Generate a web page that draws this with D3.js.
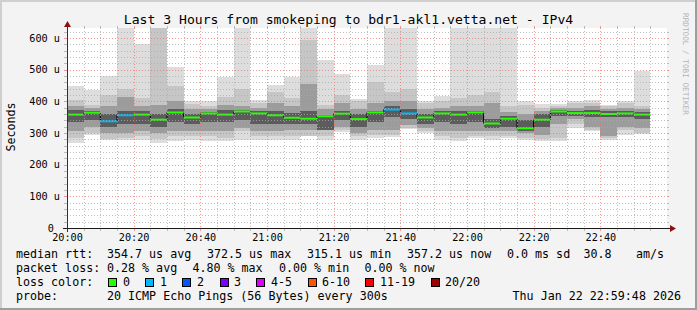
<!DOCTYPE html>
<html>
<head>
<meta charset="utf-8">
<title>smokeping bdr1-akl1</title>
<script src="https://cdn.jsdelivr.net/npm/d3@7/dist/d3.min.js"></script>
<style>
  body { margin: 0; background: #ffffff; }
  text { font-family: "DejaVu Sans Mono", monospace; }
</style>
</head>
<body>
<svg id="mainsvg" width="697" height="310"></svg>
<script>
// 5 minute steps starting 20:00, values in microseconds
const median    = [358,364,337,356,358,342,365,349,362,358,368,362,356,348,345,353,361,344,365,374,362,349,362,358,365,330,345,315,342,368,363,363,360,362,358];
const lossCount = [0,0,1,1,0,0,0,0,0,0,0,0,0,0,0,0,0,0,0,1,1,0,0,0,0,0,0,0,0,0,0,0,0,0,0];
// smoke: sorted ping pairs, outer to inner
const smokeMax  = [447,437,481,660,582,660,508,402,400,476,660,405,453,477,660,532,486,408,516,660,660,400,416,660,660,660,660,400,392,392,402,405,389,400,495];
const smokeMin  = [268,295,277,279,279,268,276,279,276,276,279,279,279,279,290,279,303,279,284,286,313,300,279,274,284,279,284,279,276,274,316,305,279,295,298];
const ring2Hi   = [405,390,420,440,410,640,450,392,385,415,440,395,430,412,595,390,420,400,460,430,440,395,400,410,420,430,385,390,380,385,395,395,385,395,385];
const ring2Lo   = [285,300,282,285,290,280,290,290,290,285,305,290,290,290,292,290,310,290,295,295,315,305,290,285,290,290,290,285,280,285,330,310,285,310,300];
const ring3Hi   = [385,378,385,415,385,390,400,375,375,390,385,380,395,385,455,375,395,375,395,400,400,375,380,385,385,395,365,360,370,378,380,385,375,380,375];
const ring3Lo   = [305,318,300,300,305,300,305,305,305,305,315,305,305,310,310,310,320,300,310,310,325,315,305,305,305,305,305,300,295,330,345,320,290,320,315];
const ring4Hi   = [372,370,360,370,368,360,375,360,365,372,372,368,370,362,370,358,370,360,370,385,375,360,370,370,370,345,355,340,360,372,370,372,368,370,365];
const ring4Lo   = [335,340,320,330,330,318,335,330,335,335,340,330,330,330,330,310,340,320,335,350,345,330,335,330,335,315,320,305,320,355,355,350,350,350,345];

const yTicks = [0, 100, 200, 300, 400, 500, 600];
const xTickLabels = ["20:00","20:20","20:40","21:00","21:20","21:40","22:00","22:20","22:40"];

const lossLabels = ["0","1","2","3","4-5","6-10","11-19","20/20"];
const lossColors = ["#26ff00","#00b8ff","#0059ff","#7e00ff","#dd00ff","#ff5500","#ff0000","#a00000"];
const statsRtt  = ["354.7 us avg","372.5 us max","315.1 us min","357.2 us now","0.0 ms sd","30.8","am/s"];
const statsLoss = ["0.28 % avg","4.80 % max","0.00 % min","0.00 % now"];

const svg = d3.select('svg');
const width = +svg.attr('width');
const height = +svg.attr('height');
const margin = { top: 28, right: 30, bottom: 82, left: 67 };
const innerWidth = width - margin.left - margin.right;
const innerHeight = height - margin.top - margin.bottom;

const start = new Date(Date.UTC(2026, 0, 22, 20, 0));
const end = new Date(Date.UTC(2026, 0, 22, 23, 0));
const x = d3.scaleUtc().domain([start, end]).range([margin.left, margin.left + innerWidth]);
const y = d3.scaleLinear().domain([0, 631.6]).range([margin.top + innerHeight, margin.top]);
const L = margin.left, R = margin.left + innerWidth, T = margin.top, B = margin.top + innerHeight;

// background + 3d frame
svg.append('rect').attr('width', width).attr('height', height).attr('fill', '#f3f3f3');
svg.append('rect').attr('x', 0).attr('y', 0).attr('width', width).attr('height', 2).attr('fill', '#cfcfcf');
svg.append('rect').attr('x', 0).attr('y', 0).attr('width', 2).attr('height', height).attr('fill', '#cfcfcf');
svg.append('rect').attr('x', 0).attr('y', height - 2).attr('width', width).attr('height', 2).attr('fill', '#9e9e9e');
svg.append('rect').attr('x', width - 2).attr('y', 0).attr('width', 2).attr('height', height).attr('fill', '#9e9e9e');

svg.append('rect').attr('x', L).attr('y', T).attr('width', innerWidth).attr('height', innerHeight).attr('fill', '#ffffff');

svg.append('clipPath').attr('id', 'plotclip').append('rect')
    .attr('x', L).attr('y', T).attr('width', innerWidth).attr('height', innerHeight);

const plot = svg.append('g').attr('clip-path', 'url(#plotclip)');
const idx = d3.range(median.length);
const t0 = i => d3.utcMinute.offset(start, i * 5);
const t1 = i => d3.utcMinute.offset(start, i * 5 + 5);

const rings = [
    { lo: smokeMin, hi: smokeMax, color: '#dddddd' },
    { lo: ring2Lo, hi: ring2Hi, color: '#c6c6c6' },
    { lo: ring3Lo, hi: ring3Hi, color: '#9c9c9c' },
    { lo: ring4Lo, hi: ring4Hi, color: '#5c5c5c' }
];
rings.forEach(r => {
    plot.append('g').selectAll('rect').data(idx).join('rect')
        .attr('x', i => x(t0(i)))
        .attr('width', i => x(t1(i)) - x(t0(i)))
        .attr('y', i => y(r.hi[i]))
        .attr('height', i => y(r.lo[i]) - y(r.hi[i]))
        .attr('fill', r.color)
        .attr('shape-rendering', 'crispEdges');
});

// median: black step line, then loss coloured pieces
const stepPts = idx.map(i => [t0(i), median[i]]).concat([[t1(median.length - 1), median[median.length - 1]]]);
plot.append('path')
    .attr('d', d3.line().x(d => x(d[0])).y(d => y(d[1])).curve(d3.curveStepAfter)(stepPts))
    .attr('fill', 'none').attr('stroke', '#000').attr('stroke-width', 1);

function lossIndex(c) {
    if (c <= 3) return c;
    if (c <= 5) return 4;
    if (c <= 10) return 5;
    if (c < 20) return 6;
    return 7;
}
plot.append('g').selectAll('line').data(idx).join('line')
    .attr('x1', i => x(t0(i))).attr('x2', i => x(t1(i)))
    .attr('y1', i => y(median[i])).attr('y2', i => y(median[i]))
    .attr('stroke', i => lossColors[lossIndex(lossCount[i])])
    .attr('stroke-width', 2);

// grid (drawn over the smoke like rrdtool)
const grid = svg.append('g');
const minorCol = 'rgba(170,170,170,0.75)', majorCol = 'rgba(240,110,110,0.7)';
d3.range(20, 640, 20).forEach(v => {
    const yy = Math.round(y(v)) + 0.5;
    if (yy < T) return;
    const col = v % 100 === 0 ? majorCol : minorCol;
    grid.append('line').attr('x1', L).attr('x2', R).attr('y1', yy).attr('y2', yy)
        .attr('stroke', col).attr('stroke-dasharray', '1,2');
    grid.append('line').attr('x1', L - 3).attr('x2', L).attr('y1', yy).attr('y2', yy).attr('stroke', col);
    grid.append('line').attr('x1', R).attr('x2', R + 2).attr('y1', yy).attr('y2', yy).attr('stroke', col);
});
d3.utcMinute.every(5).range(d3.utcMinute.offset(start, 5), end).forEach(t => {
    const xx = Math.round(x(t)) + 0.5;
    const col = t.getUTCMinutes() % 20 === 0 ? majorCol : minorCol;
    grid.append('line').attr('x1', xx).attr('x2', xx).attr('y1', T).attr('y2', B)
        .attr('stroke', col).attr('stroke-dasharray', '1,2');
    grid.append('line').attr('x1', xx).attr('x2', xx).attr('y1', B).attr('y2', B + 3).attr('stroke', col);
    grid.append('line').attr('x1', xx).attr('x2', xx).attr('y1', T - 2).attr('y2', T).attr('stroke', col);
});

// axes lines + arrows
svg.append('line').attr('x1', L - 4).attr('x2', R + 4).attr('y1', B + 0.5).attr('y2', B + 0.5)
    .attr('stroke', '#1a1a1a');
svg.append('line').attr('x1', L + 0.5).attr('x2', L + 0.5).attr('y1', B + 4).attr('y2', T - 4)
    .attr('stroke', '#5a2020');
svg.append('path').attr('d', `M${R + 3},${B - 3} L${R + 9},${B + 0.5} L${R + 3},${B + 4} Z`).attr('fill', '#901010');
svg.append('path').attr('d', `M${L - 3},${T - 1} L${L + 0.5},${T - 7} L${L + 4},${T - 1} Z`).attr('fill', '#901010');

// tick labels
const yAxis = d3.axisLeft(y).tickValues(yTicks).tickSize(0).tickPadding(7)
    .tickFormat(v => v === 0 ? '0 ' : v + ' u');
const ya = svg.append('g').attr('transform', `translate(${L},0)`).call(yAxis);
ya.select('.domain').remove();
ya.selectAll('text').attr('font-family', 'DejaVu Sans Mono').attr('font-size', '10.2px')
    .attr('fill', '#000').attr('xml:space', 'preserve').style('white-space', 'pre');

const xTickDates = xTickLabels.map(s => new Date(Date.UTC(2026, 0, 22, +s.slice(0, 2), +s.slice(3))));
const xAxis = d3.axisBottom(x).tickValues(xTickDates).tickSize(0).tickPadding(6)
    .tickFormat((d, i) => xTickLabels[i]);
const xa = svg.append('g').attr('transform', `translate(0,${B})`).call(xAxis);
xa.select('.domain').remove();
xa.selectAll('text').attr('font-family', 'DejaVu Sans Mono').attr('font-size', '10.2px').attr('fill', '#000');

// titles
svg.append('text').attr('x', width / 2).attr('y', 24).attr('text-anchor', 'middle')
    .attr('font-size', '13.1px').attr('fill', '#000')
    .text('Last 3 Hours from smokeping to bdr1-akl1.vetta.net - IPv4');
svg.append('text').attr('transform', 'translate(14.5,127) rotate(-90)').attr('text-anchor', 'middle')
    .attr('font-size', '11.67px').attr('fill', '#000').text('Seconds');
svg.append('text').attr('transform', 'translate(683,13) rotate(90)')
    .attr('font-size', '7.7px').attr('fill', '#b4b4b4').text('RRDTOOL / TOBI OETIKER');

// legend
const fs = '11.67px';
const leg = svg.append('g').attr('font-size', fs).attr('fill', '#000');
leg.append('text').attr('x', 16).attr('y', 258).text('median rtt:');
[107, 207, 307, 407, 507, 583.5, 636].forEach((px, i) => {
    leg.append('text').attr('x', px).attr('y', 258).text(statsRtt[i]);
});
leg.append('text').attr('x', 16).attr('y', 272).text('packet loss:');
[107, 192.4, 279, 364.4].forEach((px, i) => {
    leg.append('text').attr('x', px).attr('y', 272).text(statsLoss[i]);
});
leg.append('text').attr('x', 16).attr('y', 286).text('loss color:');
const boxX = [108, 145, 182, 220, 256, 308, 365, 431];
const labX = [123, 160, 197, 234, 271, 322, 380, 445];
lossLabels.forEach((lab, i) => {
    leg.append('rect').attr('x', boxX[i] + 0.5).attr('y', 278.5).attr('width', 8).attr('height', 8)
        .attr('fill', lossColors[i]).attr('stroke', '#000').attr('stroke-width', 1);
    leg.append('text').attr('x', labX[i]).attr('y', 286).text(lab);
});
leg.append('text').attr('x', 16).attr('y', 300).text('probe:');
leg.append('text').attr('x', 107).attr('y', 300).text('20 ICMP Echo Pings (56 Bytes) every 300s');
leg.append('text').attr('x', 681).attr('y', 300).attr('text-anchor', 'end').text('Thu Jan 22 22:59:48 2026');
</script>
</body>
</html>
